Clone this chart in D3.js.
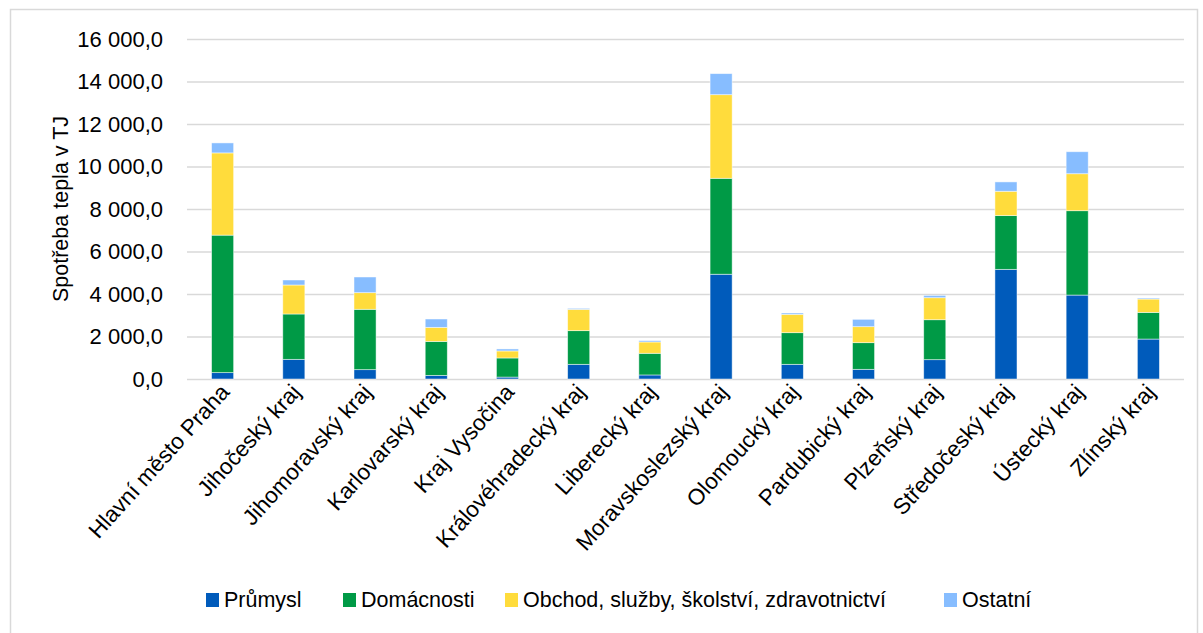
<!DOCTYPE html>
<html>
<head>
<meta charset="utf-8">
<script src="https://cdn.jsdelivr.net/npm/d3@7"></script>
<style>
  html, body { margin: 0; padding: 0; background: #fff; }
  text { font-family: "Liberation Sans", Arial, sans-serif; fill: #000; }
</style>
</head>
<body>
<svg id="chart" width="1203" height="633"></svg>
<script>
const categories = ["Hlavní město Praha", "Jihočeský kraj", "Jihomoravský kraj", "Karlovarský kraj",
  "Kraj Vysočina", "Královéhradecký kraj", "Liberecký kraj", "Moravskoslezský kraj",
  "Olomoucký kraj", "Pardubický kraj", "Plzeňský kraj", "Středočeský kraj", "Ústecký kraj", "Zlínský kraj"];
const seriesNames = ["Průmysl", "Domácnosti", "Obchod, služby, školství, zdravotnictví", "Ostatní"];
const prumysl    = [300, 925, 440, 170, 90, 690, 190, 4930, 690, 455, 910, 5160, 3950, 1880];
const domacnosti = [6470, 2134, 2840, 1600, 900, 1585, 1020, 4515, 1490, 1255, 1880, 2530, 3970, 1255];
const obchod     = [3870, 1365, 783, 660, 330, 1003, 533, 3935, 863, 753, 1035, 1145, 1740, 628];
const ostatni    = [470, 235, 737, 393, 94, 47, 63, 990, 63, 345, 110, 440, 1035, 47];
const yTicks = [0, 2000, 4000, 6000, 8000, 10000, 12000, 14000, 16000];
const colors = ["#005bbb", "#009a46", "#ffdc3c", "#87bdff"];
const legendX = [206, 343, 505, 944];

const svg = d3.select("#chart");
const plot = { left: 187, right: 1184, top: 39, bottom: 379 };

// chart frame
svg.append("rect").attr("x", 10.5).attr("y", 9.5).attr("width", 1187).attr("height", 640)
  .attr("fill", "none").attr("stroke", "#d9d9d9").attr("stroke-width", 1.5);

const x = d3.scaleBand().domain(categories).range([plot.left, plot.right]).paddingInner(0.69).paddingOuter(0.345);
const y = d3.scaleLinear().domain([0, 16000]).range([plot.bottom, plot.top]);

const fmt = v => d3.format(",.1f")(v).replace(/,/g, " ").replace(".", ",");

// gridlines + y labels
const yAxis = d3.axisLeft(y).tickValues(yTicks).tickFormat(fmt).tickSize(-(plot.right - plot.left)).tickPadding(24);
const gy = svg.append("g").attr("transform", `translate(${plot.left},0)`).call(yAxis);
gy.attr("font-size", null).attr("font-family", null);
gy.select(".domain").remove();
gy.selectAll(".tick line").attr("stroke", "#d9d9d9").attr("stroke-width", 1.5);
gy.selectAll(".tick text").style("font-size", "22px").attr("fill", "#000");

// stacked data
const rows = categories.map((c, i) => ({ cat: c, s0: prumysl[i], s1: domacnosti[i], s2: obchod[i], s3: ostatni[i] }));
const stack = d3.stack().keys(["s0", "s1", "s2", "s3"])(rows);

svg.append("g").selectAll("g").data(stack).join("g")
  .attr("fill", (d, i) => colors[i])
  .selectAll("rect").data(d => d).join("rect")
  .attr("x", d => x(d.data.cat))
  .attr("width", x.bandwidth())
  .attr("y", d => y(d[1]))
  .attr("height", d => y(d[0]) - y(d[1]))
  .attr("stroke", "#ffffff").attr("stroke-opacity", 0.6).attr("stroke-width", 0.8);

// x axis labels
const xAxis = d3.axisBottom(x).tickSize(0).tickPadding(0);
const gx = svg.append("g").attr("transform", `translate(0,${plot.bottom})`).call(xAxis);
gx.attr("font-size", null).attr("font-family", null);
gx.select(".domain").remove();
gx.selectAll(".tick text")
  .style("font-size", "22.5px").attr("fill", "#000")
  .attr("text-anchor", "end")
  .attr("dy", null).attr("y", null)
  .attr("transform", "translate(8,14) rotate(-48)");

// y axis title
svg.append("text")
  .attr("transform", `translate(68,${(plot.top + plot.bottom) / 2}) rotate(-90)`)
  .attr("text-anchor", "middle")
  .style("font-size", "21.5px")
  .text("Spotřeba tepla v TJ");

// legend
const lg = svg.append("g").attr("transform", "translate(0,607)");
seriesNames.forEach((name, i) => {
  const g = lg.append("g").attr("transform", `translate(${legendX[i]},0)`);
  g.append("rect").attr("x", 0).attr("y", -14).attr("width", 13).attr("height", 14).attr("fill", colors[i]);
  g.append("text").attr("x", 18).attr("y", 0).style("font-size", "21.5px").text(name);
});
</script>
</body>
</html>
